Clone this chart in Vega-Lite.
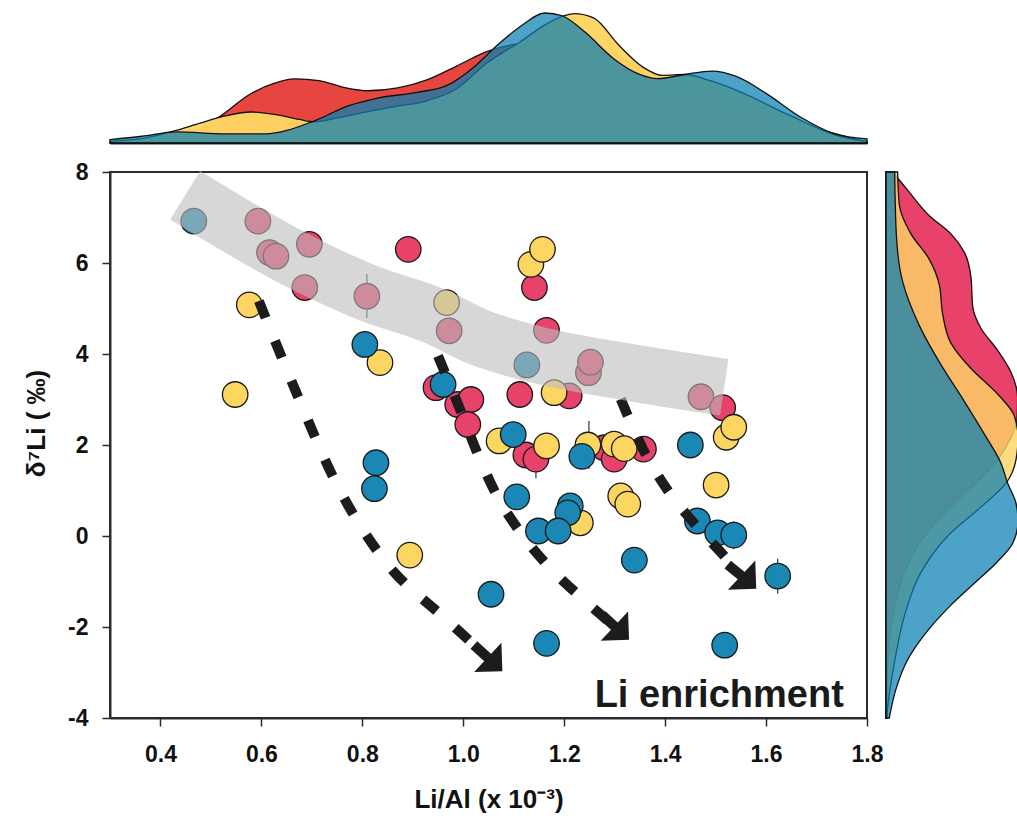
{
  "$schema": "https://vega.github.io/schema/vega-lite/v6.json",
  "padding": {"left": 22, "top": 10, "right": 0, "bottom": 0},
  "config": {
    "font": "Liberation Sans",
    "view": {"stroke": null},
    "axis": {
      "labelFont": "Liberation Sans", "labelFontSize": 23, "labelFontWeight": "bold", "labelColor": "#111111",
      "titleFont": "Liberation Sans", "titleFontSize": 26, "titleFontWeight": "bold", "titleColor": "#111111",
      "domainColor": "#2a2a33", "domainWidth": 2, "tickColor": "#2a2a33", "tickWidth": 1.5, "tickSize": 8, "grid": false
    }
  },
  "datasets": {
    "points": [
      {"g": "red", "x": 0.593, "y": 6.92}, {"g": "red", "x": 0.616, "y": 6.23}, {"g": "red", "x": 0.629, "y": 6.15},
      {"g": "red", "x": 0.695, "y": 6.41}, {"g": "red", "x": 0.891, "y": 6.30}, {"g": "red", "x": 0.686, "y": 5.46},
      {"g": "red", "x": 0.809, "y": 5.27}, {"g": "red", "x": 0.972, "y": 4.51}, {"g": "red", "x": 0.946, "y": 3.26},
      {"g": "red", "x": 0.989, "y": 2.89}, {"g": "red", "x": 1.015, "y": 3.00}, {"g": "red", "x": 1.009, "y": 2.45},
      {"g": "red", "x": 1.141, "y": 5.46}, {"g": "red", "x": 1.165, "y": 4.52}, {"g": "red", "x": 1.248, "y": 3.59},
      {"g": "red", "x": 1.252, "y": 3.82}, {"g": "red", "x": 1.112, "y": 3.11}, {"g": "red", "x": 1.210, "y": 3.08},
      {"g": "red", "x": 1.471, "y": 3.06}, {"g": "red", "x": 1.514, "y": 2.82}, {"g": "red", "x": 1.124, "y": 1.78},
      {"g": "red", "x": 1.144, "y": 1.69}, {"g": "red", "x": 1.279, "y": 1.94}, {"g": "red", "x": 1.299, "y": 1.69},
      {"g": "red", "x": 1.357, "y": 1.91},
      {"g": "yellow", "x": 0.576, "y": 5.08}, {"g": "yellow", "x": 0.548, "y": 3.11}, {"g": "yellow", "x": 0.835, "y": 3.81},
      {"g": "yellow", "x": 0.967, "y": 5.13}, {"g": "yellow", "x": 0.894, "y": -0.42}, {"g": "yellow", "x": 1.134, "y": 5.97},
      {"g": "yellow", "x": 1.157, "y": 6.30}, {"g": "yellow", "x": 1.180, "y": 3.15}, {"g": "yellow", "x": 1.071, "y": 2.09},
      {"g": "yellow", "x": 1.165, "y": 1.98}, {"g": "yellow", "x": 1.247, "y": 2.00}, {"g": "yellow", "x": 1.299, "y": 2.02},
      {"g": "yellow", "x": 1.319, "y": 1.92}, {"g": "yellow", "x": 1.521, "y": 2.17}, {"g": "yellow", "x": 1.536, "y": 2.39},
      {"g": "yellow", "x": 1.501, "y": 1.12}, {"g": "yellow", "x": 1.312, "y": 0.88}, {"g": "yellow", "x": 1.326, "y": 0.70},
      {"g": "yellow", "x": 1.232, "y": 0.29},
      {"g": "blue", "x": 0.466, "y": 6.92}, {"g": "blue", "x": 0.805, "y": 4.21}, {"g": "blue", "x": 0.960, "y": 3.33},
      {"g": "blue", "x": 0.827, "y": 1.61}, {"g": "blue", "x": 0.824, "y": 1.04}, {"g": "blue", "x": 1.055, "y": -1.28},
      {"g": "blue", "x": 1.126, "y": 3.76}, {"g": "blue", "x": 1.099, "y": 2.23}, {"g": "blue", "x": 1.235, "y": 1.75},
      {"g": "blue", "x": 1.450, "y": 2.00}, {"g": "blue", "x": 1.106, "y": 0.86}, {"g": "blue", "x": 1.212, "y": 0.66},
      {"g": "blue", "x": 1.207, "y": 0.51}, {"g": "blue", "x": 1.149, "y": 0.11}, {"g": "blue", "x": 1.188, "y": 0.11},
      {"g": "blue", "x": 1.464, "y": 0.33}, {"g": "blue", "x": 1.504, "y": 0.07}, {"g": "blue", "x": 1.536, "y": 0.02},
      {"g": "blue", "x": 1.339, "y": -0.53}, {"g": "blue", "x": 1.623, "y": -0.88}, {"g": "blue", "x": 1.165, "y": -2.36},
      {"g": "blue", "x": 1.518, "y": -2.40}
    ],
    "errs": [
      {"x": 0.809, "lo": 4.79, "hi": 5.76}, {"x": 1.144, "lo": 1.27, "hi": 2.11}, {"x": 1.249, "lo": 1.47, "hi": 2.53},
      {"x": 1.623, "lo": -1.27, "hi": -0.50}, {"x": 1.536, "lo": -0.29, "hi": 0.33}
    ],
    "arrows": [
      {"a": 1, "x": 0.595, "y": 5.165}, {"a": 1, "x": 0.672, "y": 3.077}, {"a": 1, "x": 0.744, "y": 1.253},
      {"a": 1, "x": 0.837, "y": -0.44}, {"a": 1, "x": 0.970, "y": -1.87}, {"a": 1, "x": 1.047, "y": -2.65},
      {"a": 2, "x": 0.950, "y": 3.956}, {"a": 2, "x": 0.995, "y": 2.747}, {"a": 2, "x": 1.027, "y": 1.846},
      {"a": 2, "x": 1.065, "y": 0.923}, {"a": 2, "x": 1.114, "y": 0.066}, {"a": 2, "x": 1.170, "y": -0.681},
      {"a": 2, "x": 1.237, "y": -1.385}, {"a": 2, "x": 1.299, "y": -1.978},
      {"a": 3, "x": 1.312, "y": 3.011}, {"a": 3, "x": 1.356, "y": 1.912}, {"a": 3, "x": 1.402, "y": 1.055},
      {"a": 3, "x": 1.457, "y": 0.286}, {"a": 3, "x": 1.517, "y": -0.440}, {"a": 3, "x": 1.550, "y": -0.857}
    ],
    "stems": [
      {"a": 1, "x": 1.021, "y": -2.396}, {"a": 1, "x": 1.063, "y": -2.82},
      {"a": 2, "x": 1.275, "y": -1.736}, {"a": 2, "x": 1.314, "y": -2.13},
      {"a": 3, "x": 1.524, "y": -0.627}, {"a": 3, "x": 1.566, "y": -1.01}
    ],
    "heads": [
      {"a": 1, "x": 1.063, "y": -2.82}, {"a": 2, "x": 1.314, "y": -2.13}, {"a": 3, "x": 1.566, "y": -1.01}
    ],
    "band": [
      {"x": 0.449, "y": 7.49}, {"x": 0.678, "y": 6.02}, {"x": 0.811, "y": 5.34}, {"x": 0.942, "y": 4.84},
      {"x": 1.035, "y": 4.35}, {"x": 1.140, "y": 4.0}, {"x": 1.338, "y": 3.58}, {"x": 1.517, "y": 3.27}
    ],
    "note": [{"label": "Li enrichment", "x": 1.754, "y": -3.758}],
    "topRed": [
      {"x": 0.300, "h": 0.0}, {"x": 0.383, "h": 0.013}, {"x": 0.431, "h": 0.043}, {"x": 0.480, "h": 0.110},
      {"x": 0.519, "h": 0.205}, {"x": 0.578, "h": 0.371}, {"x": 0.626, "h": 0.453}, {"x": 0.665, "h": 0.486},
      {"x": 0.714, "h": 0.473}, {"x": 0.763, "h": 0.422}, {"x": 0.811, "h": 0.396}, {"x": 0.870, "h": 0.417},
      {"x": 0.928, "h": 0.478}, {"x": 0.986, "h": 0.581}, {"x": 1.045, "h": 0.691}, {"x": 1.113, "h": 0.754},
      {"x": 1.210, "h": 0.78}, {"x": 1.308, "h": 0.65}, {"x": 1.405, "h": 0.47}, {"x": 1.551, "h": 0.32},
      {"x": 1.697, "h": 0.115}, {"x": 1.800, "h": 0.008}
    ],
    "topYellow": [
      {"x": 0.300, "h": 0.013}, {"x": 0.363, "h": 0.033}, {"x": 0.431, "h": 0.095}, {"x": 0.480, "h": 0.153},
      {"x": 0.529, "h": 0.205}, {"x": 0.578, "h": 0.235}, {"x": 0.626, "h": 0.217}, {"x": 0.675, "h": 0.179},
      {"x": 0.704, "h": 0.161}, {"x": 0.753, "h": 0.192}, {"x": 0.811, "h": 0.238}, {"x": 0.870, "h": 0.279},
      {"x": 0.928, "h": 0.320}, {"x": 0.986, "h": 0.409}, {"x": 1.045, "h": 0.601}, {"x": 1.113, "h": 0.767},
      {"x": 1.162, "h": 0.895}, {"x": 1.196, "h": 0.959}, {"x": 1.220, "h": 0.980}, {"x": 1.259, "h": 0.946},
      {"x": 1.308, "h": 0.742}, {"x": 1.356, "h": 0.575}, {"x": 1.395, "h": 0.512}, {"x": 1.439, "h": 0.519},
      {"x": 1.493, "h": 0.468}, {"x": 1.551, "h": 0.384}, {"x": 1.649, "h": 0.205}, {"x": 1.746, "h": 0.051},
      {"x": 1.800, "h": 0.013}
    ],
    "topBlue": [
      {"x": 0.300, "h": 0.026}, {"x": 0.363, "h": 0.051}, {"x": 0.431, "h": 0.084}, {"x": 0.529, "h": 0.069},
      {"x": 0.607, "h": 0.069}, {"x": 0.704, "h": 0.166}, {"x": 0.772, "h": 0.281}, {"x": 0.831, "h": 0.340},
      {"x": 0.909, "h": 0.384}, {"x": 0.967, "h": 0.435}, {"x": 1.025, "h": 0.588}, {"x": 1.064, "h": 0.729},
      {"x": 1.113, "h": 0.882}, {"x": 1.162, "h": 0.985}, {"x": 1.196, "h": 0.964}, {"x": 1.240, "h": 0.844},
      {"x": 1.298, "h": 0.639}, {"x": 1.347, "h": 0.524}, {"x": 1.386, "h": 0.488}, {"x": 1.439, "h": 0.519},
      {"x": 1.493, "h": 0.545}, {"x": 1.541, "h": 0.504}, {"x": 1.600, "h": 0.376}, {"x": 1.668, "h": 0.197},
      {"x": 1.736, "h": 0.069}, {"x": 1.800, "h": 0.031}
    ],
    "rightRed": [
      {"y": -4.0, "h": 0.003}, {"y": -2.8, "h": 0.013}, {"y": -1.76, "h": 0.051}, {"y": -0.8, "h": 0.139},
      {"y": 0.0, "h": 0.290}, {"y": 0.64, "h": 0.492}, {"y": 1.20, "h": 0.694}, {"y": 1.68, "h": 0.846},
      {"y": 2.16, "h": 0.947}, {"y": 2.54, "h": 0.992}, {"y": 3.04, "h": 0.997}, {"y": 3.60, "h": 0.947},
      {"y": 4.08, "h": 0.846}, {"y": 4.56, "h": 0.720}, {"y": 5.04, "h": 0.657}, {"y": 5.68, "h": 0.644},
      {"y": 6.24, "h": 0.593}, {"y": 6.64, "h": 0.492}, {"y": 7.04, "h": 0.328}, {"y": 7.6, "h": 0.164},
      {"y": 8.0, "h": 0.051}
    ],
    "rightYellow": [
      {"y": -4.0, "h": 0.005}, {"y": -3.76, "h": 0.013}, {"y": -2.8, "h": 0.063}, {"y": -1.76, "h": 0.139},
      {"y": -0.8, "h": 0.265}, {"y": 0.0, "h": 0.467}, {"y": 0.64, "h": 0.720}, {"y": 1.16, "h": 0.909},
      {"y": 1.68, "h": 0.985}, {"y": 2.16, "h": 1.0}, {"y": 2.64, "h": 0.972}, {"y": 3.12, "h": 0.846},
      {"y": 3.68, "h": 0.644}, {"y": 4.24, "h": 0.492}, {"y": 4.88, "h": 0.429}, {"y": 5.52, "h": 0.404},
      {"y": 6.08, "h": 0.328}, {"y": 6.64, "h": 0.189}, {"y": 7.28, "h": 0.101}, {"y": 8.0, "h": 0.088}
    ],
    "rightBlue": [
      {"y": -4.0, "h": 0.025}, {"y": -3.36, "h": 0.076}, {"y": -2.72, "h": 0.164}, {"y": -2.08, "h": 0.316},
      {"y": -1.52, "h": 0.492}, {"y": -1.04, "h": 0.669}, {"y": -0.56, "h": 0.846}, {"y": -0.16, "h": 0.960},
      {"y": 0.32, "h": 1.0}, {"y": 0.72, "h": 0.985}, {"y": 1.16, "h": 0.922}, {"y": 1.6, "h": 0.871},
      {"y": 2.24, "h": 0.745}, {"y": 2.96, "h": 0.593}, {"y": 3.76, "h": 0.417}, {"y": 4.64, "h": 0.25},
      {"y": 5.6, "h": 0.125}, {"y": 6.64, "h": 0.078}, {"y": 8.0, "h": 0.066}
    ]
  },
  "bounds": "flush",
  "spacing": 29,
  "vconcat": [
    {
      "width": 757,
      "height": 132,
      "view": {"stroke": null},
      "encoding": {
        "x": {"field": "x", "type": "quantitative", "scale": {"domain": [0.3, 1.8], "nice": false, "zero": false},
              "axis": {"labels": false, "ticks": false, "title": null, "domain": true, "domainWidth": 2}},
        "y": {"field": "h", "type": "quantitative", "scale": {"domain": [0, 1], "nice": false}, "axis": null}
      },
      "layer": [
        {"data": {"name": "topRed"}, "mark": {"type": "area", "interpolate": "monotone", "fill": "#e6463f", "fillOpacity": 1, "stroke": "#111111", "strokeWidth": 1.3}},
        {"data": {"name": "topYellow"}, "mark": {"type": "area", "interpolate": "monotone", "fill": "#fdd562", "fillOpacity": 0.97, "stroke": "#111111", "strokeWidth": 1.3}},
        {"data": {"name": "topBlue"}, "mark": {"type": "area", "interpolate": "monotone", "fill": "#0a80b2", "fillOpacity": 0.73, "stroke": "#111111", "strokeWidth": 1.3}}
      ]
    },
    {
      "bounds": "flush",
      "spacing": 19,
      "hconcat": [
        {
          "width": 757,
          "height": 546,
          "view": {"stroke": "#2a2a33", "strokeWidth": 2},
          "layer": [
            {
              "data": {"name": "errs"},
              "mark": {"type": "rule", "color": "#333333", "strokeWidth": 1.2},
              "encoding": {
                "x": {"field": "x", "type": "quantitative", "scale": {"domain": [0.3, 1.8], "nice": false, "zero": false},
                      "axis": {"values": [0.4, 0.6, 0.8, 1.0, 1.2, 1.4, 1.6, 1.8], "format": ".1f", "labelFlush": false, "labelPadding": 17,
                               "title": "Li/Al (x 10⁻³)", "titlePadding": 20}},
                "y": {"field": "lo", "type": "quantitative", "scale": {"domain": [-4, 8], "nice": false, "zero": false},
                      "axis": {"values": [-4, -2, 0, 2, 4, 6, 8], "labelExpr": "'' + datum.value", "labelPadding": 14,
                               "title": "δ⁷Li ( ‰)", "titlePadding": 18, "titleY": 251}},
                "y2": {"field": "hi"}
              }
            },
            {
              "data": {"name": "points"},
              "mark": {"type": "point", "shape": "circle", "filled": true, "size": 650, "opacity": 1, "stroke": "#1a1a1a", "strokeWidth": 1.3},
              "encoding": {
                "x": {"field": "x", "type": "quantitative"},
                "y": {"field": "y", "type": "quantitative"},
                "fill": {"field": "g", "type": "nominal", "scale": {"domain": ["red", "yellow", "blue"], "range": ["#e8426b", "#fdd561", "#1b87b4"]}, "legend": null}
              }
            },
            {
              "data": {"name": "arrows"},
              "mark": {"type": "line", "interpolate": "monotone", "color": "#1c1c1c", "strokeWidth": 10, "strokeDash": [18, 25], "strokeCap": "butt"},
              "encoding": {
                "x": {"field": "x", "type": "quantitative"},
                "y": {"field": "y", "type": "quantitative"},
                "detail": {"field": "a", "type": "nominal"}
              }
            },
            {
              "data": {"name": "stems"},
              "mark": {"type": "line", "color": "#1c1c1c", "strokeWidth": 10, "strokeCap": "butt"},
              "encoding": {
                "x": {"field": "x", "type": "quantitative"},
                "y": {"field": "y", "type": "quantitative"},
                "detail": {"field": "a", "type": "nominal"}
              }
            },
            {
              "data": {"name": "band"},
              "mark": {"type": "line", "interpolate": "monotone", "color": "#bcbcbc", "opacity": 0.6, "strokeWidth": 57, "strokeCap": "butt"},
              "encoding": {
                "x": {"field": "x", "type": "quantitative"},
                "y": {"field": "y", "type": "quantitative"}
              }
            },
            {
              "data": {"name": "heads"},
              "mark": {"type": "point", "shape": "M1,0L-1,-2L-1,2Z", "filled": true, "size": 400, "opacity": 1, "fill": "#1c1c1c", "angle": 43},
              "encoding": {
                "x": {"field": "x", "type": "quantitative"},
                "y": {"field": "y", "type": "quantitative"}
              }
            },
            {
              "data": {"name": "note"},
              "mark": {"type": "text", "align": "right", "baseline": "alphabetic", "font": "Liberation Sans", "fontSize": 38, "fontWeight": "bold", "color": "#1a1a1a"},
              "encoding": {
                "x": {"field": "x", "type": "quantitative"},
                "y": {"field": "y", "type": "quantitative"},
                "text": {"field": "label"}
              }
            }
          ]
        },
        {
          "width": 132,
          "height": 546,
          "view": {"stroke": null},
          "encoding": {
            "x": {"field": "h", "type": "quantitative", "scale": {"domain": [0, 1], "nice": false}, "axis": null, "stack": null},
            "y": {"field": "y", "type": "quantitative", "scale": {"domain": [-4, 8], "nice": false, "zero": false},
                  "axis": {"labels": false, "ticks": false, "title": null, "domain": true, "domainWidth": 2}}
          },
          "layer": [
            {"data": {"name": "rightRed"}, "mark": {"type": "area", "orient": "horizontal", "interpolate": "monotone", "fill": "#e8416a", "fillOpacity": 1, "stroke": "#111111", "strokeWidth": 1.3}},
            {"data": {"name": "rightYellow"}, "mark": {"type": "area", "orient": "horizontal", "interpolate": "monotone", "fill": "#fdd466", "fillOpacity": 0.82, "stroke": "#111111", "strokeWidth": 1.3}},
            {"data": {"name": "rightBlue"}, "mark": {"type": "area", "orient": "horizontal", "interpolate": "monotone", "fill": "#0a80b2", "fillOpacity": 0.73, "stroke": "#111111", "strokeWidth": 1.3}}
          ]
        }
      ]
    }
  ]
}
